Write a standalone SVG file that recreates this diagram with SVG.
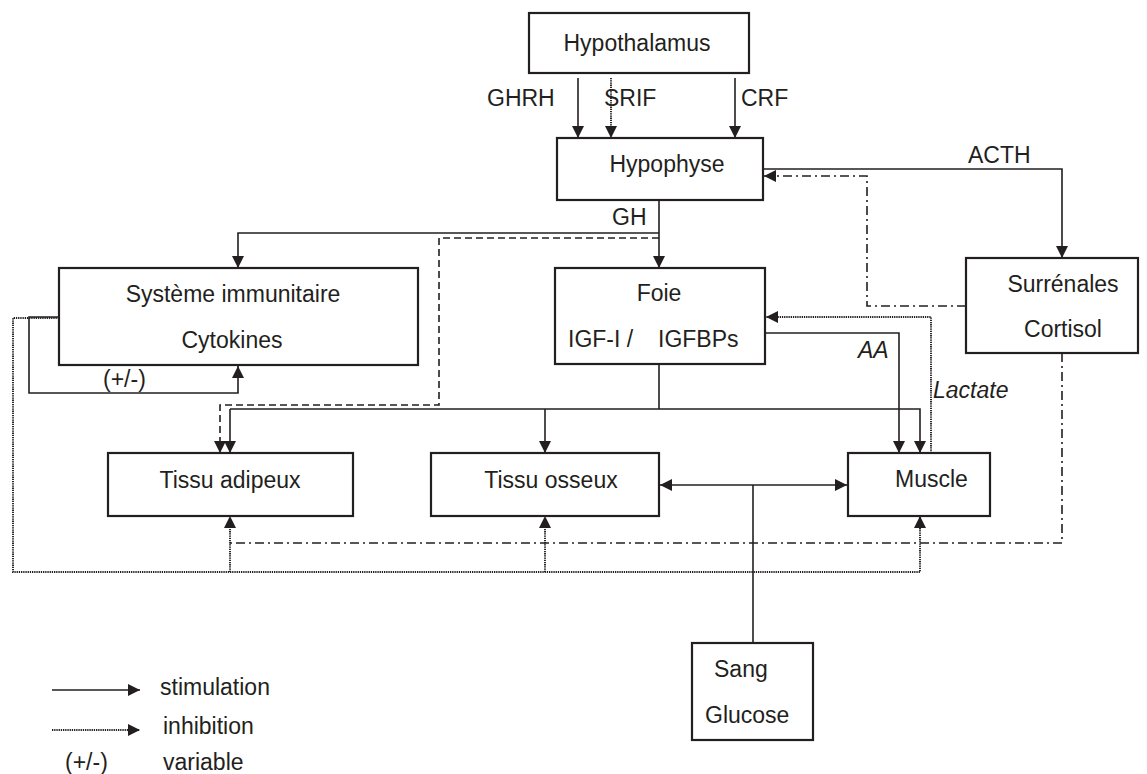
<svg xmlns="http://www.w3.org/2000/svg" width="1147" height="774" viewBox="0 0 1147 774">
<style>
text{font-family:"Liberation Sans",Arial,sans-serif;font-size:23px;fill:#231f20}
.c{text-anchor:middle}
.i{font-style:italic}
.box{fill:#fff;stroke:#231f20;stroke-width:2.2}
.ln{fill:none;stroke:#231f20;stroke-width:1.6}
.dot{stroke-width:1.9;stroke-dasharray:1.3 0.9}
.dash{stroke-dasharray:7 4}
.dd{stroke-dasharray:9 4 2 4}
</style>
<defs>
<marker id="ah" markerUnits="userSpaceOnUse" markerWidth="13" markerHeight="13" refX="12" refY="6" orient="auto">
<path d="M0,0 L12,6 L0,12 z" fill="#231f20"/>
</marker>
</defs>
<rect width="1147" height="774" fill="#fff"/>
<g id="connectors">
<path class="ln" d="M578,78 V138" marker-end="url(#ah)"/>
<path class="ln dot" d="M611,78 V138" marker-end="url(#ah)"/>
<path class="ln" d="M735,78 V138" marker-end="url(#ah)"/>
<path class="ln" d="M763,169 H1062 V258" marker-end="url(#ah)"/>
<path class="ln dd" d="M966,306 H867 V176 H764" marker-end="url(#ah)"/>
<path class="ln" d="M659,200 V268" marker-end="url(#ah)"/>
<path class="ln" d="M659,233 H238 V268" marker-end="url(#ah)"/>
<path class="ln dash" d="M659,238 H439 V405 H220 V453" marker-end="url(#ah)"/>
<path class="ln" d="M59,317 H29 V393 H238 V366" marker-end="url(#ah)"/>
<path class="ln" d="M659,364 V409"/>
<path class="ln" d="M230,409 V453" marker-end="url(#ah)"/>
<path class="ln" d="M230,409 H920 V453" marker-end="url(#ah)"/>
<path class="ln" d="M545,409 V453" marker-end="url(#ah)"/>
<path class="ln" d="M765,333 H899 V453" marker-end="url(#ah)"/>
<path class="ln dot" d="M931,453 V317 H766" marker-end="url(#ah)"/>
<path class="ln" d="M753,485 H660" marker-end="url(#ah)"/>
<path class="ln" d="M753,485 H847" marker-end="url(#ah)"/>
<path class="ln" d="M753,485 V643"/>
<path class="ln dd" d="M1062,353 V543 H230"/>
<path class="ln dot" d="M59,318 H13 V572 H920 V516" marker-end="url(#ah)"/>
<path class="ln dot" d="M230,572 V516" marker-end="url(#ah)"/>
<path class="ln dot" d="M545,572 V516" marker-end="url(#ah)"/>
</g>
<g id="hypothalamus"><rect class="box" x="529" y="13" width="220" height="60"/><text class="c" x="637" y="51">Hypothalamus</text></g>
<g id="labels-top">
<text x="487" y="106">GHRH</text>
<text x="604" y="106">SRIF</text>
<text x="741" y="106">CRF</text>
<text x="968" y="163">ACTH</text>
<text x="612" y="225">GH</text>
</g>
<g id="hypophyse"><rect class="box" x="557" y="138" width="206" height="62"/><text class="c" x="667" y="172">Hypophyse</text></g>
<g id="surrenales"><rect class="box" x="966" y="258" width="172" height="95"/><text class="c" x="1063" y="292">Surrénales</text><text class="c" x="1063" y="337">Cortisol</text></g>
<g id="immunitaire"><rect class="box" x="59" y="268" width="359" height="97"/><text class="c" x="233" y="302">Système immunitaire</text><text class="c" x="232" y="348">Cytokines</text><text x="103" y="387">(+/-)</text></g>
<g id="foie"><rect class="box" x="555" y="268" width="210" height="96"/><text class="c" x="659" y="301">Foie</text><text x="568" y="347">IGF-I /</text><text x="658" y="347">IGFBPs</text></g>
<g id="flux-labels"><text class="i" x="858" y="358">AA</text><text class="i" x="933" y="398">Lactate</text></g>
<g id="tissu-adipeux"><rect class="box" x="108" y="453" width="245" height="63"/><text class="c" x="230" y="488">Tissu adipeux</text></g>
<g id="tissu-osseux"><rect class="box" x="431" y="453" width="228" height="63"/><text class="c" x="551" y="488">Tissu osseux</text></g>
<g id="muscle"><rect class="box" x="848" y="453" width="142" height="63"/><text x="895" y="487">Muscle</text></g>
<g id="sang"><rect class="box" x="692" y="643" width="121" height="97"/><text x="714" y="677">Sang</text><text x="705" y="723">Glucose</text></g>
<g id="legend">
<path class="ln" d="M52,690 H140" marker-end="url(#ah)"/>
<path class="ln dot" d="M52,730 H140" marker-end="url(#ah)"/>
<text x="160" y="695">stimulation</text>
<text x="163" y="734">inhibition</text>
<text x="65" y="770">(+/-)</text>
<text x="163" y="770">variable</text>
</g>
</svg>
